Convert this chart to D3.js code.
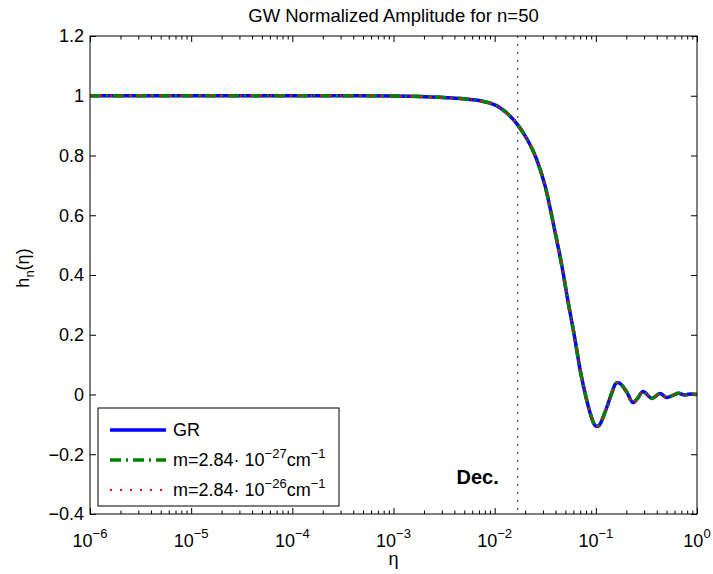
<!DOCTYPE html>
<html>
<head>
<meta charset="utf-8">
<script src="https://cdn.jsdelivr.net/npm/d3@7"></script>
<style>
  html, body { margin: 0; padding: 0; background: #fff; }
  svg { display: block; }
  text { font-family: "Liberation Sans", Arial, Helvetica, sans-serif; fill: #000; }
</style>
</head>
<body>
<svg id="chart" width="713" height="574"></svg>
<script>
// ---- data ----
const titleText = "GW Normalized Amplitude for n=50";
const eta = [1e-6, 1e-5, 1e-4, 3e-4, 1e-3, 2e-3, 3.6e-3, 7.2e-3, 0.0113, 0.0166, 0.0208, 0.0262, 0.0314,
  0.0403, 0.0462, 0.0519, 0.0622, 0.0697, 0.0782, 0.0875, 0.0955, 0.1026, 0.111, 0.123, 0.1445, 0.156, 0.1656,
  0.18, 0.203, 0.233, 0.26, 0.292, 0.359, 0.431, 0.505, 0.578, 0.66, 0.75, 0.85, 1.0];
const hGR = [1, 1, 1, 1, 0.999, 0.997, 0.993, 0.983, 0.96, 0.906, 0.856, 0.784, 0.700,
  0.53, 0.43, 0.33, 0.185, 0.085, 0.005, -0.06, -0.097, -0.107, -0.097, -0.06, 0.007, 0.035, 0.040,
  0.032, 0.007, -0.027, -0.012, 0.010, -0.013, 0.003, -0.010, -0.003, 0.004, -0.002, 0.002, 0];
const hM27 = [1, 1, 1, 1, 0.999, 0.997, 0.993, 0.983, 0.96, 0.906, 0.856, 0.784, 0.700,
  0.53, 0.43, 0.33, 0.185, 0.085, 0.005, -0.06, -0.097, -0.107, -0.097, -0.06, 0.007, 0.035, 0.040,
  0.032, 0.007, -0.027, -0.012, 0.010, -0.013, 0.003, -0.010, -0.003, 0.004, -0.002, 0.002, 0];
const hM26 = [1, 1, 1, 1, 0.999, 0.997, 0.993, 0.983, 0.96, 0.906, 0.856, 0.784, 0.700,
  0.53, 0.43, 0.33, 0.185, 0.085, 0.005, -0.06, -0.097, -0.107, -0.097, -0.06, 0.007, 0.036, 0.041,
  0.030, 0.002, -0.031, -0.014, 0.012, -0.012, 0.004, -0.009, -0.002, 0.004, -0.002, 0.002, 0];
const seriesNames = ["GR", "m=2.84· 10", "m=2.84· 10"];
const seriesExp = [null, "−27", "−26"];
const xMajorTicks = [1e-6, 1e-5, 1e-4, 1e-3, 1e-2, 1e-1, 1];
const xTickExp = ["−6", "−5", "−4", "−3", "−2", "−1", "0"];
const yTicks = [-0.4, -0.2, 0, 0.2, 0.4, 0.6, 0.8, 1, 1.2];
const yTickLabels = ["−0.4", "−0.2", "0", "0.2", "0.4", "0.6", "0.8", "1", "1.2"];
const decEta = 0.0169;
const decLabel = "Dec.";

// ---- layout ----
const L = 90, R = 697, T = 36, B = 514;
const svg = d3.select("#chart");
const x = d3.scaleLog().domain([1e-6, 1]).range([L, R]);
const y = d3.scaleLinear().domain([-0.4, 1.2]).range([B, T]);

svg.append("rect").attr("x", L).attr("y", T).attr("width", R - L).attr("height", B - T)
  .attr("fill", "#fff");

const minor = x.ticks().filter(v => !xMajorTicks.some(m => Math.abs(Math.log10(v) - Math.log10(m)) < 1e-9));
function styleAxis(g) {
  g.select(".domain").remove();
  g.selectAll(".tick line").attr("stroke", "#000").attr("stroke-width", 1);
  g.selectAll(".tick text").remove();
}
svg.append("g").attr("transform", `translate(0,${B})`)
  .call(d3.axisBottom(x).tickValues(xMajorTicks).tickSize(-6).tickFormat("")).call(styleAxis);
svg.append("g").attr("transform", `translate(0,${B})`)
  .call(d3.axisBottom(x).tickValues(minor).tickSize(-3.5).tickFormat("")).call(styleAxis);
svg.append("g").attr("transform", `translate(0,${T})`)
  .call(d3.axisTop(x).tickValues(xMajorTicks).tickSize(-6).tickFormat("")).call(styleAxis);
svg.append("g").attr("transform", `translate(0,${T})`)
  .call(d3.axisTop(x).tickValues(minor).tickSize(-3.5).tickFormat("")).call(styleAxis);
svg.append("g").attr("transform", `translate(${L},0)`)
  .call(d3.axisLeft(y).tickValues(yTicks).tickSize(-6).tickFormat("")).call(styleAxis);
svg.append("g").attr("transform", `translate(${R},0)`)
  .call(d3.axisRight(y).tickValues(yTicks).tickSize(-6).tickFormat("")).call(styleAxis);

// tick labels
yTicks.forEach((v, i) => {
  svg.append("text").attr("x", L - 6).attr("y", y(v)).attr("dy", "0.36em")
    .attr("text-anchor", "end").attr("font-size", 18).text(yTickLabels[i]);
});
xMajorTicks.forEach((v, i) => {
  const t = svg.append("text").attr("x", x(v)).attr("y", 547)
    .attr("text-anchor", "middle").attr("font-size", 18);
  t.append("tspan").text("10");
  t.append("tspan").attr("dy", -9).attr("font-size", 13).text(xTickExp[i]);
});

// Dec. line
svg.append("line").attr("x1", x(decEta)).attr("x2", x(decEta)).attr("y1", T).attr("y2", B)
  .attr("stroke", "#222").attr("stroke-width", 1).attr("stroke-dasharray", "2,6");
svg.append("text").attr("x", x(decEta) - 19).attr("y", 484).attr("text-anchor", "end")
  .attr("font-size", 20).attr("font-weight", "bold").text(decLabel);

// curves
const line = d3.line().x(d => x(d[0])).y(d => y(d[1])).curve(d3.curveMonotoneX);
const styles = [
  { color: "#0000ff", width: 3.5, dash: null },
  { color: "#008000", width: 3.5, dash: "11,5,2,5" },
  { color: "#ff0000", width: 2, dash: "2,8" }
];
const allSeries = [hGR, hM27, hM26];
const plotG = svg.append("g");
allSeries.forEach((hs, i) => {
  const pts = eta.map((e, j) => [e, hs[j]]);
  plotG.append("path").attr("d", line(pts)).attr("fill", "none")
    .attr("stroke", styles[i].color).attr("stroke-width", styles[i].width)
    .attr("stroke-dasharray", styles[i].dash);
});

svg.append("rect").attr("x", L).attr("y", T).attr("width", R - L).attr("height", B - T)
  .attr("fill", "none").attr("stroke", "#000").attr("stroke-width", 1);

// title and axis labels
svg.append("text").attr("x", (L + R) / 2).attr("y", 22).attr("text-anchor", "middle")
  .attr("font-size", 18.5).text(titleText);
svg.append("text").attr("x", (L + R) / 2).attr("y", 565).attr("text-anchor", "middle")
  .attr("font-size", 18).text("η");
const yl = svg.append("text").attr("transform", `translate(29,268) rotate(-90)`)
  .attr("text-anchor", "middle").attr("font-size", 18);
yl.append("tspan").text("h");
yl.append("tspan").attr("dy", 5).attr("font-size", 13).text("n");
yl.append("tspan").attr("dy", -5).text("(η)");

// legend
const lg = svg.append("g");
lg.append("rect").attr("x", 98).attr("y", 408).attr("width", 241).attr("height", 98)
  .attr("fill", "#fff").attr("stroke", "#000").attr("stroke-width", 1);
[430, 460, 490].forEach((ly, i) => {
  lg.append("line").attr("x1", 110).attr("x2", 166).attr("y1", ly).attr("y2", ly)
    .attr("stroke", styles[i].color).attr("stroke-width", styles[i].width)
    .attr("stroke-dasharray", styles[i].dash);
  const t = lg.append("text").attr("x", 173).attr("y", ly + 6).attr("font-size", 18);
  t.append("tspan").text(seriesNames[i]);
  if (seriesExp[i]) {
    t.append("tspan").attr("dy", -8).attr("font-size", 13).text(seriesExp[i]);
    t.append("tspan").attr("dy", 8).text("cm");
    t.append("tspan").attr("dy", -8).attr("font-size", 13).text("−1");
  }
});
</script>
</body>
</html>
